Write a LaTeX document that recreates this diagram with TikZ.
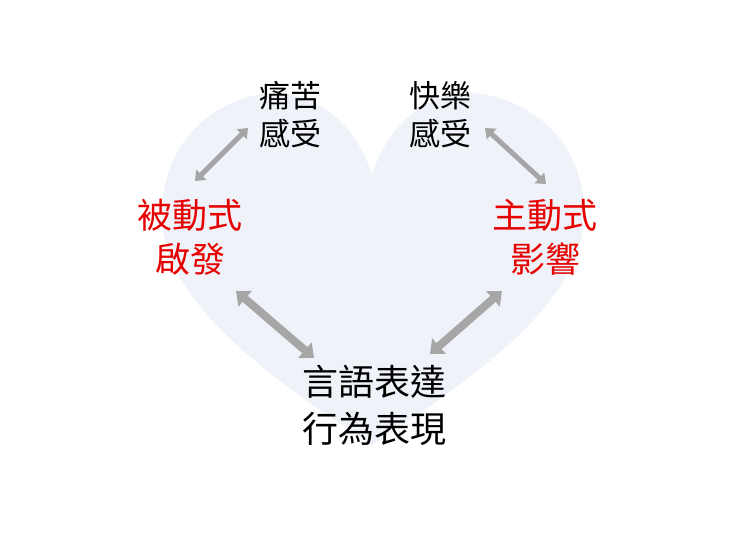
\documentclass[tikz,border=0pt]{standalone}
\usepackage{fontspec}
\newfontfamily\cjk{Noto Sans CJK TC}
\usetikzlibrary{arrows.meta}
\definecolor{heartc}{HTML}{EFF3F9}
\definecolor{arrc}{HTML}{A6A6A6}
\definecolor{redc}{HTML}{E60000}
\begin{document}
\begin{tikzpicture}[x=1pt,y=1pt,
  lbl/.style={font=\cjk\fontsize{31}{38}\selectfont,align=center,inner sep=0pt},
  rlbl/.style={font=\cjk\fontsize{35}{44}\selectfont,align=center,inner sep=0pt,text=redc},
  blbl/.style={font=\cjk\fontsize{36}{47}\selectfont,align=center,inner sep=0pt},
  thin arr/.style={draw=arrc,line width=5pt,{Triangle[length=9pt,width=14pt]}-{Triangle[length=9pt,width=14pt]}},
  thick arr/.style={draw=arrc,line width=8pt,{Triangle[length=12pt,width=20pt]}-{Triangle[length=12pt,width=20pt]}}]
\useasboundingbox[fill=white] (0,0) rectangle (740,555);
\fill[heartc] (372,110) .. controls (250,190) and (160,260) .. (162,345)
  .. controls (165,430) and (235,462) .. (275,462)
  .. controls (325,462) and (360,420) .. (372,380)
  .. controls (384,420) and (419,462) .. (469,462)
  .. controls (509,462) and (582,430) .. (584,345)
  .. controls (586,260) and (494,190) .. (372,110) -- cycle;
\node[lbl] (pain) at (290,440) {痛苦\\感受};
\node[lbl] (joy) at (440,440) {快樂\\感受};
\node[rlbl] (pas) at (190,318) {被動式\\啟發};
\node[rlbl] (act) at (545,318) {主動式\\影響};
\node[blbl] (beh) at (374,150) {言語表達\\行為表現};
\coordinate (a1) at (248,427); \coordinate (a2) at (195,374);
\coordinate (b1) at (485,427); \coordinate (b2) at (546,371);
\coordinate (c1) at (236,264); \coordinate (c2) at (314,197);
\coordinate (d1) at (502,264); \coordinate (d2) at (430,201);
\path[thin arr] (a1) -- (a2);
\path[thin arr] (b1) -- (b2);
\path[thick arr] (c1) -- (c2);
\path[thick arr] (d1) -- (d2);
\end{tikzpicture}
\end{document}
